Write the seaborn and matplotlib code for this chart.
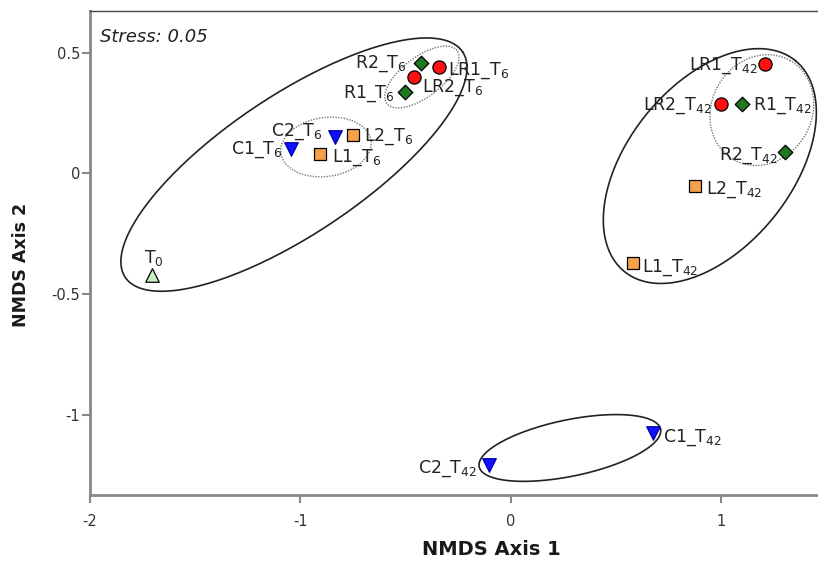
import numpy as np
import pandas as pd
import matplotlib
matplotlib.use('Agg')
import matplotlib.pyplot as plt
import seaborn as sns

# sample scores on the two NMDS axes
labels = ['T$_{0}$',
          'C1_T$_{6}$', 'C2_T$_{6}$', 'L1_T$_{6}$', 'L2_T$_{6}$',
          'R1_T$_{6}$', 'R2_T$_{6}$', 'LR1_T$_{6}$', 'LR2_T$_{6}$',
          'LR1_T$_{42}$', 'LR2_T$_{42}$', 'R1_T$_{42}$', 'R2_T$_{42}$',
          'L2_T$_{42}$', 'L1_T$_{42}$', 'C1_T$_{42}$', 'C2_T$_{42}$']
axis1 = [-1.705,
         -1.045, -0.836, -0.907, -0.751,
         -0.504, -0.428, -0.342, -0.461,
         1.207, 0.998, 1.097, 1.302,
         0.874, 0.580, 0.675, -0.105]
axis2 = [-0.421,
         0.101, 0.150, 0.080, 0.159,
         0.337, 0.457, 0.441, 0.399,
         0.453, 0.287, 0.287, 0.088,
         -0.053, -0.372, -1.076, -1.209]
treatment = ['T0',
             'C', 'C', 'L', 'L',
             'R', 'R', 'LR', 'LR',
             'LR', 'LR', 'R', 'R',
             'L', 'L', 'C', 'C']

# group ellipses: centre, semi axes (x units), angle (deg), solid or dotted
ell_cx = [-1.031, -0.879, -0.423, 0.945, 1.192, 0.280]
ell_cy = [0.036, 0.109, 0.399, 0.030, 0.262, -1.138]
ell_a = [0.964, 0.216, 0.209, 0.645, 0.271, 0.440]
ell_b = [0.330, 0.140, 0.095, 0.389, 0.238, 0.134]
ell_ang = [33.75, 8, 37, 51, 60, 11.7]
ell_solid = [True, False, False, True, False, True]

df = pd.DataFrame({'label': labels, 'x': axis1, 'y': axis2, 'trt': treatment})

# label offsets in pixels (dx, dy, ha)
lab_off = {
    'T$_{0}$': (2, 12, 'center'),
    'C1_T$_{6}$': (-8, -5, 'right'),
    'C2_T$_{6}$': (-12, 1, 'right'),
    'L1_T$_{6}$': (12, -8, 'left'),
    'L2_T$_{6}$': (11, -6, 'left'),
    'R1_T$_{6}$': (-10, -6, 'right'),
    'R2_T$_{6}$': (-14, -5, 'right'),
    'LR1_T$_{6}$': (9, -8, 'left'),
    'LR2_T$_{6}$': (8, -15, 'left'),
    'LR1_T$_{42}$': (-7, -6, 'right'),
    'LR2_T$_{42}$': (-9, -6, 'right'),
    'R1_T$_{42}$': (11, -6, 'left'),
    'R2_T$_{42}$': (-7, -8, 'right'),
    'L2_T$_{42}$': (11, -8, 'left'),
    'L1_T$_{42}$': (9, -9, 'left'),
    'C1_T$_{42}$': (10, -9, 'left'),
    'C2_T$_{42}$': (-12, -8, 'right'),
}

sns.set_style('white')
plt.rcParams['font.family'] = ['DejaVu Sans']
plt.rcParams['mathtext.default'] = 'regular'

fig = plt.figure(figsize=(8.18, 5.61), dpi=100)
ax = fig.add_axes([0.110, 0.1176, 0.898, 0.863])
ax.set_xlim(-2, 1.49)
ax.set_ylim(-1.333, 0.673)

# ellipses drawn so they look round on screen (y scaled by pixel ratio)
p0 = ax.transData.transform((0, 0))
px = ax.transData.transform((1, 0))[0] - p0[0]
py = ax.transData.transform((0, 1))[1] - p0[1]
k = py / px
t = np.linspace(0, 2 * np.pi, 300)
for cx, cy, a, b, ang, solid in zip(ell_cx, ell_cy, ell_a, ell_b, ell_ang, ell_solid):
    th = np.radians(ang)
    ex = cx + a * np.cos(t) * np.cos(th) - b * np.sin(t) * np.sin(th)
    ey = cy + (a * np.cos(t) * np.sin(th) + b * np.sin(t) * np.cos(th)) / k
    if solid:
        ax.plot(ex, ey, color='#222222', lw=1.2, zorder=1)
    else:
        ax.plot(ex, ey, color='#777777', lw=1.0, ls=(0, (1, 1)), zorder=1)

styles = {
    'T0': ('^', '#c8efc0', 95),
    'C': ('v', '#1010ff', 95),
    'L': ('s', '#f5a04a', 75),
    'R': ('D', '#1e7a1e', 55),
    'LR': ('o', '#ff1010', 90),
}
for trt, (mk, col, size) in styles.items():
    sub = df[df['trt'] == trt]
    edge = '#0000aa' if trt == 'C' else 'black'
    sns.scatterplot(data=sub, x='x', y='y', marker=mk, color=col, s=size,
                    edgecolor=edge, linewidth=0.9, ax=ax, zorder=3, legend=False)

for _, r in df.iterrows():
    dx, dy, ha = lab_off[r['label']]
    ax.annotate(r['label'], (r['x'], r['y']), xytext=(dx, dy),
                textcoords='offset pixels', ha=ha, va='baseline',
                fontsize=12.5, color='#222222', zorder=4)

ax.text(0.0136, 0.936, 'Stress: 0.05', transform=ax.transAxes, style='italic',
        fontsize=13, color='#222222', ha='left', va='baseline')

ax.set_xticks([-2, -1, 0, 1])
ax.set_xticklabels(['-2', '-1', '0', '1'])
ax.set_yticks([-1, -0.5, 0, 0.5])
ax.set_yticklabels(['-1', '-0.5', '0', '0.5'])
ax.tick_params(direction='out', length=6, width=1.5, color='#888888',
               labelsize=10.5, labelcolor='#333333', bottom=True, left=True)
ax.tick_params(axis='x', pad=8)
ax.tick_params(axis='y', pad=1)
ax.set_xlabel('NMDS Axis 1', fontsize=14, fontweight='bold', color='#1a1a1a')
ax.set_ylabel('NMDS Axis 2', fontsize=12.5, fontweight='bold', color='#1a1a1a')
ax.xaxis.set_label_coords(0.547, -0.093)
ax.yaxis.set_label_coords(-0.082, 0.475)

for side in ['left', 'bottom']:
    ax.spines[side].set_color('#888888')
    ax.spines[side].set_linewidth(2)
ax.spines['top'].set_color('#444444')
ax.spines['top'].set_linewidth(1)
ax.spines['right'].set_visible(False)

fig.savefig('out.png', dpi=100)
